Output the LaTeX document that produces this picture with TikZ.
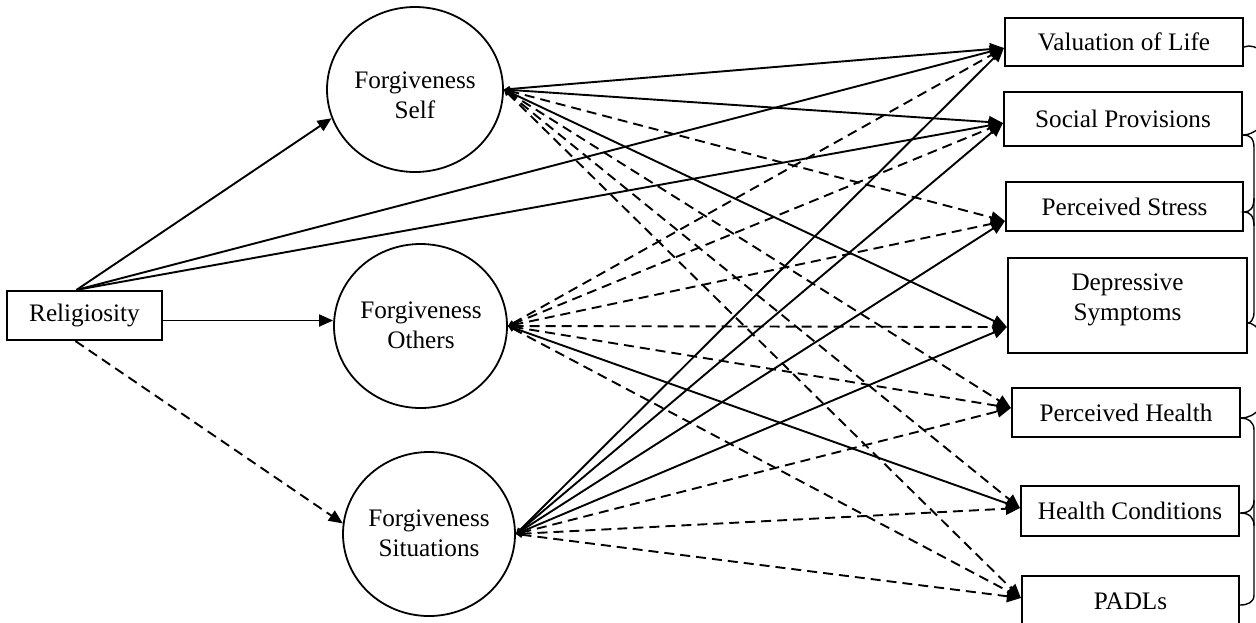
\documentclass[tikz,border=0pt]{standalone}
\usepackage{fontspec}
\setmainfont{Liberation Serif}
\usetikzlibrary{arrows.meta,shapes.geometric,calc}
\begin{document}
\begin{tikzpicture}[x=0.5pt,y=-0.5pt,
  every node/.style={font=\fontsize{12.6}{15}\selectfont},
  obox/.style={draw,line width=1.1pt,inner sep=0pt,align=center},
  lat/.style={draw,ellipse,line width=0.9pt,inner sep=0pt},
  ltxt/.style={align=center,inner sep=0pt},
  conn/.style={line width=0.95pt,-{Triangle[length=7pt,width=6pt]}},
  fan/.style={line width=0.95pt,{Triangle[length=3pt,width=3pt]}-{Triangle[length=7pt,width=6pt]}},
  dsh/.style={dash pattern=on 5pt off 3pt},
  cov/.style={line width=0.7pt}
]
\useasboundingbox (0,0) rectangle (1256,622);
\clip (0,0) rectangle (1256,622);

% observed predictor
\node[obox,minimum width=77.5pt,minimum height=24.5pt] (rel) at (84.5,315.5) {Religiosity};

% latent variables
\node[lat,minimum width=88pt,minimum height=82.5pt] (self) at (415,89.5) {};
\node[lat,minimum width=86.5pt,minimum height=82pt] (oth) at (420.5,326) {};
\node[lat,minimum width=86pt,minimum height=82pt] (sit) at (429,534) {};
\node[ltxt] (selft) at (415,95) {Forgiveness\\Self};
\node[ltxt] (otht) at (421,325) {Forgiveness\\Others};
\node[ltxt] (sitt) at (429,533) {Forgiveness\\Situations};

% outcomes
\node[obox,minimum width=119pt,minimum height=24pt] (val) at (1124,42) {Valuation of Life};
\node[obox,minimum width=119pt,minimum height=27pt] (soc) at (1123,119) {Social Provisions};
\node[obox,minimum width=118.5pt,minimum height=24.5pt] (str) at (1124.5,206.5) {Perceived Stress};
\node[obox,minimum width=119.5pt,minimum height=47.5pt] (dep) at (1127.5,305.5) {};
\node[ltxt] (dept) at (1127.5,300) {Depressive\\Symptoms};
\node[obox,minimum width=114pt,minimum height=24.5pt] (phl) at (1126,412.5) {Perceived Health};
\node[obox,minimum width=109pt,minimum height=25pt] (hcd) at (1130,511) {Health Conditions};
\node[obox,minimum width=108.5pt,minimum height=25pt] (pad) at (1130.5,601) {PADLs};

% arrow targets on outcome boxes
\coordinate (tval) at ($(val.west)+(0,6)$);
\coordinate (tsoc) at ($(soc.west)+(0,4)$);
\coordinate (tstr) at ($(str.west)+(0,14.5)$);
\coordinate (tdep) at ($(dep.west)+(0,21.5)$);
\coordinate (tphl) at ($(phl.west)+(0,-4.5)$);
\coordinate (thcd) at ($(hcd.west)+(0,-3)$);
\coordinate (tpad) at ($(pad.west)+(0,-3)$);

% religiosity paths
\coordinate (rtop) at ($(rel.north)+(-8,0)$);
\coordinate (rbot) at ($(rel.south)+(-9,0)$);
\coordinate (rright) at ($(rel.east)+(0,5)$);
\draw[conn] (rtop) -- (self.199);
\draw[conn] (rtop) -- (tval);
\draw[conn] (rtop) -- (tsoc);
\draw[conn] (rright) -- (rright -| oth.west);
\draw[conn,dsh] (rbot) -- (sit.173);

% forgiveness self
\draw[fan] (self.east) -- (tval);
\draw[fan] (self.east) -- (tsoc);
\draw[fan] (self.east) -- (tdep);
\draw[fan,dsh] (self.east) -- (tstr);
\draw[fan,dsh] (self.east) -- (tphl);
\draw[fan,dsh] (self.east) -- (thcd);
\draw[fan,dsh] (self.east) -- (tpad);

% forgiveness others
\draw[fan,dsh] (oth.east) -- (tval);
\draw[fan,dsh] (oth.east) -- (tsoc);
\draw[fan,dsh] (oth.east) -- (tstr);
\draw[fan,dsh] (oth.east) -- (tdep);
\draw[fan,dsh] (oth.east) -- (tphl);
\draw[fan,dsh] (oth.east) -- (tpad);
\draw[fan] (oth.east) -- (thcd);

% forgiveness situations
\draw[fan] (sit.east) -- (tval);
\draw[fan] (sit.east) -- (tsoc);
\draw[fan] (sit.east) -- (tstr);
\draw[fan] (sit.east) -- (tdep);
\draw[fan,dsh] (sit.east) -- (tphl);
\draw[fan,dsh] (sit.east) -- (thcd);
\draw[fan,dsh] (sit.east) -- (tpad);

% covariance arcs on the right
\coordinate (cv) at ($(val.east)+(0,5)$);
\coordinate (cs) at ($(soc.east)+(0,16)$);
\coordinate (ct) at ($(str.east)+(0,5.5)$);
\coordinate (cd) at ($(dep.east)+(0,17.5)$);
\coordinate (cp) at ($(phl.east)+(0,5.5)$);
\coordinate (ch) at ($(hcd.east)+(0,2)$);
\coordinate (ca) at ($(pad.east)+(0,4)$);
\draw[cov] (cv) .. controls (1255,42) and (1275,55) .. (1275,90) .. controls (1275,120) and (1255,135) .. (cs);
\draw[cov] (cs) .. controls (1250,135) and (1254,138) .. (1254,148) -- (1254,312) .. controls (1254,320) and (1250,323) .. (cd);
\draw[cov] (1254,198) .. controls (1254,208) and (1250,212) .. (ct) .. controls (1250,212) and (1254,216) .. (1254,226);
\draw[cov] (cd) .. controls (1255,323) and (1270,335) .. (1270,370) .. controls (1270,405) and (1255,418) .. (cp);
\draw[cov] (cp) .. controls (1248,418) and (1254,422) .. (1254,430) -- (1254,595) .. controls (1254,602) and (1248,605) .. (ca);
\draw[cov] (1254,500) .. controls (1254,508) and (1250,513) .. (ch) .. controls (1250,513) and (1254,518) .. (1254,526);
\end{tikzpicture}
\end{document}
